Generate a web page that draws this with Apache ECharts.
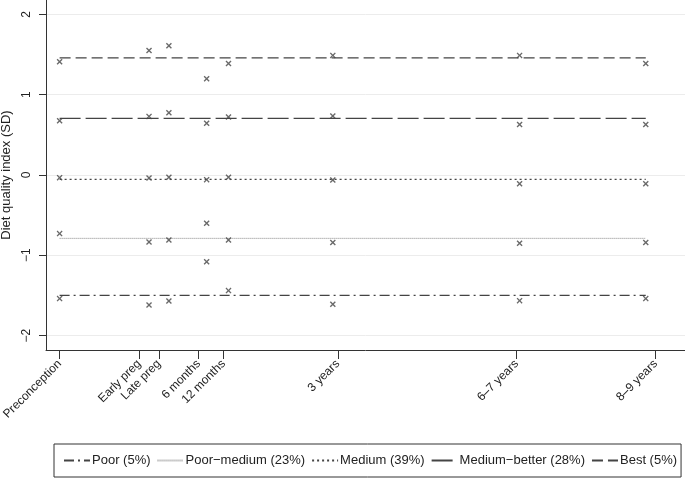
<!DOCTYPE html>
<html><head><meta charset="utf-8">
<script src="https://cdn.jsdelivr.net/npm/echarts@6/dist/echarts.min.js"></script>
<style>html,body{margin:0;padding:0;background:#fff}#c{width:685px;height:481px}</style>
</head><body><div id="c"></div>
<script>
const xTickPos = [0, 8, 10, 14, 16.5, 28, 46, 60];
const xTickLabels = ['Preconception', 'Early preg', 'Late preg', '6 months', '12 months', '3 years', '6–7 years', '8–9 years'];
const timeX = [0, 9.0, 11.0, 14.8, 17.0, 27.5, 46.3, 59.0];
const yTicks = [-2, -1, 0, 1, 2];
const groupNames = ['Poor (5%)', 'Poor−medium (23%)', 'Medium (39%)', 'Medium−better (28%)', 'Best (5%)'];
const poorVals = [-1.54, -1.62, -1.57, -1.08, -1.44, -1.61, -1.565, -1.54];
const poorMediumVals = [-0.73, -0.834, -0.81, -0.60, -0.81, -0.84, -0.85, -0.84];
const mediumVals = [-0.033, -0.037, -0.029, -0.058, -0.029, -0.062, -0.108, -0.108];
const mediumBetterVals = [0.676, 0.73, 0.776, 0.644, 0.722, 0.735, 0.63, 0.63];
const bestVals = [1.41, 1.55, 1.61, 1.20, 1.39, 1.49, 1.49, 1.39];
const meanLevels = [-1.50, -0.79, -0.054, 0.706, 1.46];

const groupVals = [poorVals, poorMediumVals, mediumVals, mediumBetterVals, bestVals];
const lineDash = [[10, 4, 2, 4], [1, 1], [2, 3], [21, 5], [11, 5]];
const lineColor = ['#444', '#999', '#444', '#444', '#444'];
const xSym = 'path://M0,1.6L1.6,0L5,3.4L8.4,0L10,1.6L6.6,5L10,8.4L8.4,10L5,6.6L1.6,10L0,8.4L3.4,5Z';
const FONT = 'Liberation Sans, Arial, Helvetica, sans-serif';

const series = [];
groupNames.forEach((n, i) => {
  series.push({
    name: n, type: 'line', symbol: 'none', silent: true,
    data: [[timeX[0], meanLevels[i]], [timeX[timeX.length - 1], meanLevels[i]]],
    lineStyle: { color: lineColor[i], width: 1.2, type: lineDash[i] },
    itemStyle: { color: lineColor[i] },
    z: 2
  });
});
groupNames.forEach((n, i) => {
  series.push({
    name: n + ' pts', type: 'scatter', symbol: xSym, symbolSize: 6,
    data: timeX.map((x, k) => [x, groupVals[i][k]]),
    itemStyle: { color: '#444' }, z: 3
  });
});

const chart = echarts.init(document.getElementById('c'), null, { renderer: 'canvas' });
chart.setOption({
  animation: false,
  backgroundColor: '#fff',
  textStyle: { fontFamily: FONT },
  grid: { left: 46, right: 0, top: 0, bottom: 131, containLabel: false, outerBoundsMode: 'none' },
  xAxis: {
    type: 'value', min: -1.37, max: 62.95,
    axisLine: { show: true, onZero: false, lineStyle: { color: '#333', width: 1 } },
    axisTick: { show: true, length: 9, lineStyle: { color: '#333' }, customValues: xTickPos },
    axisLabel: {
      customValues: xTickPos, rotate: 45, margin: 12, fontSize: 12, color: '#222', fontFamily: FONT,
      hideOverlap: false,
      formatter: v => { const k = xTickPos.findIndex(p => Math.abs(p - v) < 1e-6); return k >= 0 ? xTickLabels[k] : ''; }
    },
    splitLine: { show: false }
  },
  yAxis: {
    type: 'value', min: -2.18, max: 2.18,
    name: 'Diet quality index (SD)', nameLocation: 'middle', nameGap: 33, nameRotate: 90,
    nameTextStyle: { fontSize: 13, color: '#222', fontFamily: FONT },
    axisLine: { show: true, onZero: false, lineStyle: { color: '#333', width: 1 } },
    axisTick: { show: true, length: 7, lineStyle: { color: '#333' }, customValues: yTicks },
    axisLabel: {
      customValues: yTicks, rotate: 90, margin: 13, fontSize: 12, color: '#222', fontFamily: FONT,
      formatter: v => (v < 0 ? '−' + Math.abs(v) : String(v))
    },
    splitLine: { show: true, lineStyle: { color: '#ececec', width: 1 } }
  },
  legend: {
    data: groupNames, left: 54, top: 444,
    padding: [10, 4, 10, 9], itemGap: 6, itemWidth: 26, itemHeight: 10,
    borderColor: '#333', borderWidth: 1, borderRadius: 0,
    itemStyle: { opacity: 0 },
    textStyle: { fontSize: 13, color: '#222', fontFamily: FONT, padding: [0, 0, 0, -3] },
    selectedMode: false
  },
  series: series
});
</script></body></html>
